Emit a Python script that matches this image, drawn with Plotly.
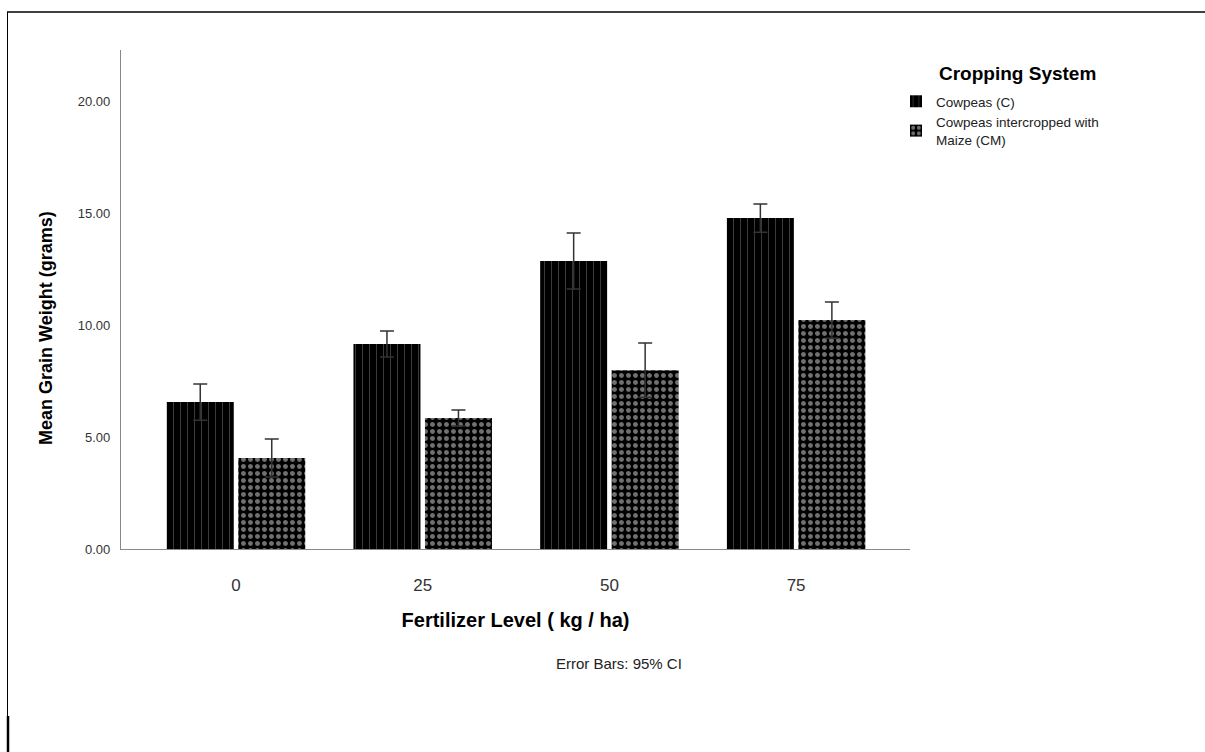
import plotly.graph_objects as go

categories = ["0", "25", "50", "75"]
c_means = [6.57, 9.17, 12.88, 14.80]
c_err = [0.81, 0.58, 1.25, 0.63]
cm_means = [4.07, 5.86, 8.00, 10.24]
cm_err = [0.85, 0.36, 1.21, 0.81]
series_names = ["Cowpeas (C)", "Cowpeas intercropped with<br>Maize (CM)"]
y_ticks = [0, 5, 10, 15, 20]
y_tick_text = ["0.00", "5.00", "10.00", "15.00", "20.00"]

W, H = 1205, 752
L, R, T, B = 121, 910, 50, 549


def px(x):
    return (x - L) / (R - L)


def py(y):
    return (B - y) / (B - T)


font_main = "Liberation Sans, Arial, sans-serif"
font_narrow = "Liberation Sans Narrow, Liberation Sans, Arial, sans-serif"

fig = go.Figure()
fig.add_trace(go.Bar(
    x=categories, y=c_means, name=series_names[0],
    marker=dict(color="black", line=dict(width=0),
                pattern=dict(shape="|", fgcolor="#8a8a8a", bgcolor="black",
                             size=7, solidity=0.12)),
    error_y=dict(type="data", array=c_err, visible=True, color="#333333",
                 thickness=1.5, width=7),
))
fig.add_trace(go.Bar(
    x=categories, y=cm_means, name=series_names[1],
    marker=dict(color="black", line=dict(width=0),
                pattern=dict(shape=".", fgcolor="#e0e0e0", bgcolor="black",
                             size=7, solidity=0.4)),
    error_y=dict(type="data", array=cm_err, visible=True, color="#333333",
                 thickness=1.5, width=7),
))

fig.update_layout(
    width=W, height=H,
    margin=dict(l=L, r=W - R, t=T, b=H - B, pad=0),
    paper_bgcolor="white", plot_bgcolor="white",
    barmode="group", bargap=0.234, bargroupgap=0.063,
    font=dict(family=font_main, color="#222222"),
    showlegend=True,
    legend=dict(
        x=px(896), y=py(86), xanchor="left", yanchor="top",
        font=dict(size=13.5, color="#222222", family=font_main),
        itemwidth=30, tracegroupgap=0, bgcolor="rgba(0,0,0,0)",
    ),
    xaxis=dict(
        type="category", range=[-0.616, 3.61],
        showline=True, linecolor="#888888", linewidth=1.2,
        ticks="outside", ticklen=20, tickcolor="rgba(0,0,0,0)",
        tickfont=dict(size=17, color="#333333", family=font_main),
        showgrid=False, zeroline=False,
        title=dict(text="<b>Fertilizer Level ( kg / ha)</b>",
                   font=dict(size=20, color="black", family=font_narrow),
                   standoff=19),
    ),
    yaxis=dict(
        range=[0, 22.32], tickvals=y_ticks, ticktext=y_tick_text,
        showline=True, linecolor="#888888", linewidth=1.2,
        ticks="outside", ticklen=7, tickcolor="rgba(0,0,0,0)",
        tickfont=dict(size=13, color="#333333", family=font_main),
        showgrid=False, zeroline=False,
    ),
)

fig.add_annotation(
    text="<b>Cropping System</b>",
    xref="paper", yref="paper", x=px(1017), y=py(73),
    xanchor="center", yanchor="middle", showarrow=False,
    font=dict(size=19, color="black", family=font_main),
)
fig.add_annotation(
    text="<b>Mean Grain Weight (grams)</b>", textangle=-90,
    xref="paper", yref="paper", x=px(46), y=py(328),
    xanchor="center", yanchor="middle", showarrow=False,
    font=dict(size=18, color="black", family=font_narrow),
)
fig.add_annotation(
    text="Error Bars: 95% CI",
    xref="paper", yref="paper", x=px(619), y=py(663),
    xanchor="center", yanchor="middle", showarrow=False,
    font=dict(size=15, color="#222222", family=font_narrow),
)

# page frame lines
fig.add_shape(type="line", xref="paper", yref="paper",
              x0=px(7), x1=px(1205), y0=py(12), y1=py(12),
              line=dict(color="black", width=1.5))
fig.add_shape(type="line", xref="paper", yref="paper",
              x0=px(7.5), x1=px(7.5), y0=py(12), y1=py(752),
              line=dict(color="black", width=1))
fig.add_shape(type="line", xref="paper", yref="paper",
              x0=px(8), x1=px(8), y0=py(716), y1=py(752),
              line=dict(color="black", width=2.5))

fig.write_html("out.html")
